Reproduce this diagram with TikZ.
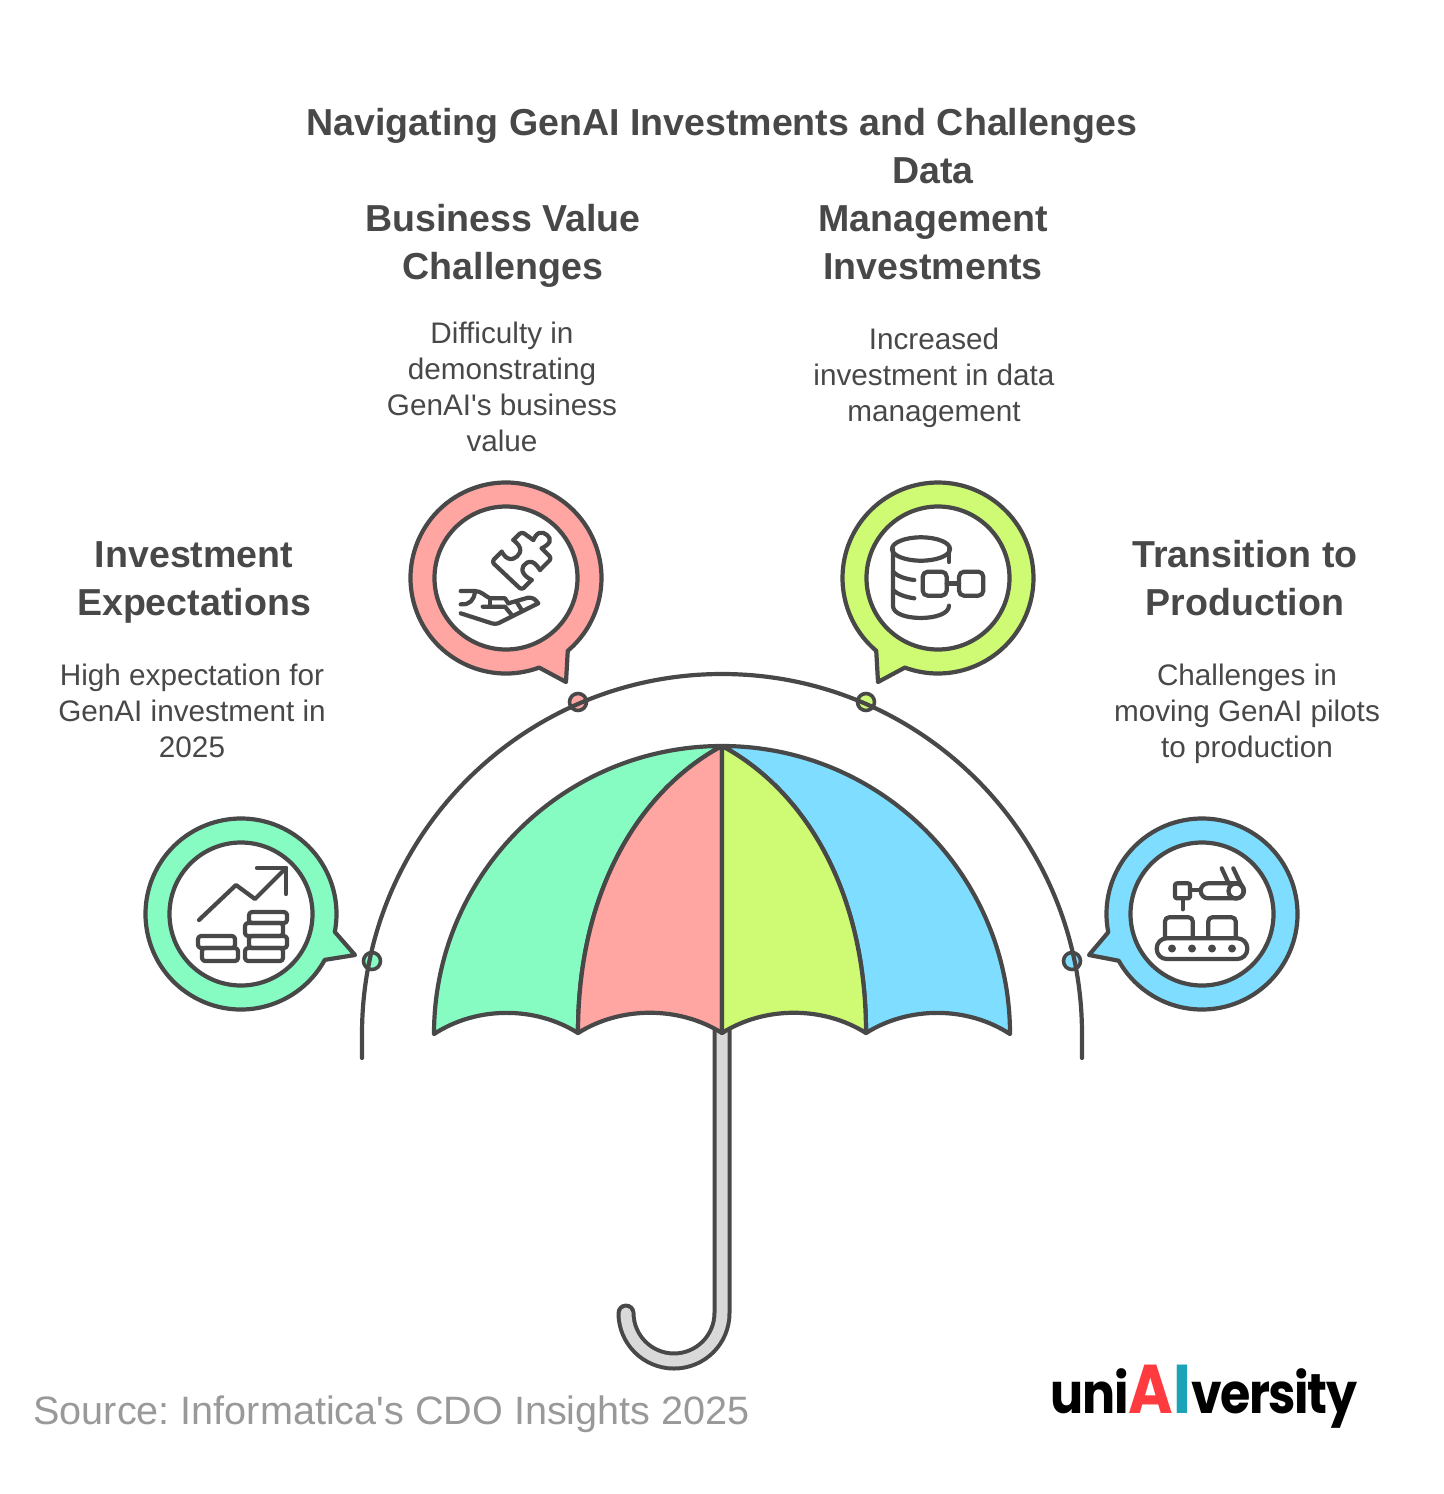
\documentclass[tikz,border=0pt]{standalone}
\usepackage{fontspec}
\setmainfont{Liberation Sans}[Ligatures=TeXOff]
\newfontfamily\logofont{Poppins}[LetterSpace=-3]
\definecolor{ink}{HTML}{484848}
\definecolor{pgreen}{HTML}{86FBC2}
\definecolor{pred}{HTML}{FFA6A3}
\definecolor{plime}{HTML}{CEFB73}
\definecolor{pblue}{HTML}{7FDEFF}
\definecolor{phandle}{HTML}{D9D9D9}
\definecolor{srcgrey}{HTML}{999999}
\definecolor{logored}{HTML}{FF3B3F}
\definecolor{logoteal}{HTML}{1BA3B8}
\tikzset{
  ln/.style={draw=ink,line width=2.1pt,line join=round,line cap=round},
  thinln/.style={draw=ink,line width=1.8pt,line join=round,line cap=round},
  heading/.style={text=ink,align=center,anchor=base,inner sep=0pt,font=\bfseries\fontsize{18.78}{24}\selectfont},
  bodytext/.style={text=ink,align=center,anchor=base,inner sep=0pt,font=\fontsize{14.85}{18}\selectfont},
}
\newcommand{\bubble}[7]{%
  \path[ln,fill=#7] (#1,#2) ++(#3:95.5) arc[start angle=#3,end angle=#4,radius=95.5] -- (#5,#6) -- cycle;
  \path[ln,fill=white] (#1,#2) circle[radius=71.5];
}
\newcommand{\dotmark}[3]{\path[thinln,fill=#3] (#1,#2) circle[radius=8.5];}
\newcommand{\bigletter}[2]{\textcolor{#1}{\fontsize{34.5}{36}\selectfont #2}}
\begin{document}
\frenchspacing
\begin{tikzpicture}[x=0.5pt,y=-0.5pt]
\path[use as bounding box] (0,0) rectangle (1444,1494);

% handle
\draw[draw=ink,line width=9.5pt,line cap=round] (722,1030) -- (722,1313) arc[start angle=0,end angle=180,radius=48];
\draw[draw=phandle,line width=5.5pt,line cap=round] (722,1030) -- (722,1313) arc[start angle=0,end angle=180,radius=48];

% canopy
\path[ln,fill=pgreen] (434,1034) arc[start angle=180,end angle=270,radius=288]
  .. controls (640,790) and (578,890) .. (578,1033)
  .. controls (535,1006) and (477,1006) .. (434,1034) -- cycle;
\path[ln,fill=pblue] (1010,1034) arc[start angle=0,end angle=-90,radius=288]
  .. controls (804,790) and (866,890) .. (866,1033)
  .. controls (909,1006) and (967,1006) .. (1010,1034) -- cycle;
\path[ln,fill=pred] (722,746) .. controls (640,790) and (578,890) .. (578,1033)
  .. controls (621,1006) and (679,1006) .. (722,1033) -- cycle;
\path[ln,fill=plime] (722,746) .. controls (804,790) and (866,890) .. (866,1033)
  .. controls (823,1006) and (765,1006) .. (722,1033) -- cycle;

% dots and outer arc
\dotmark{372}{961}{pgreen}
\dotmark{578}{702}{pred}
\dotmark{866}{702}{plime}
\dotmark{1072}{961}{pblue}
\path[ln] (362,1058) -- (362,1034) arc[start angle=180,end angle=360,radius=360] -- (1082,1058);

% bubbles
\bubble{241}{914}{28.7}{370.8}{355}{955}{pgreen}
\bubble{506}{578}{69.7}{409.7}{566}{682}{pred}
\bubble{938}{578}{130.3}{470.3}{878}{682}{plime}
\bubble{1202}{914}{169}{510.7}{1089}{955}{pblue}

% icon 1: chart and coins
\path[ln] (199,920) -- (236,885) -- (255,899) -- (286,868);
\path[ln] (257,868) -- (286,868) -- (286,894);
\path[ln,rounded corners=1.5pt] (198,936) rectangle (235,948);
\path[ln,rounded corners=1.5pt] (202,948) rectangle (238,961);
\path[ln,rounded corners=1.5pt] (249,912) rectangle (287,923);
\path[ln,rounded corners=1.5pt] (245,923) rectangle (283,936);
\path[ln,rounded corners=1.5pt] (249,936) rectangle (287,948);
\path[ln,rounded corners=1.5pt] (245,948) rectangle (283,961);

% icon 2: puzzle piece and hand
\path[ln,rounded corners=1.5pt] (501.7,551.7) -- (491.7,561.7) -- (521.7,590) -- (531.7,580);
\path[ln] plot[smooth,tension=0.8] coordinates {(531.7,580) (524,574) (523.3,566) (532,562) (540,570)};
\path[ln,rounded corners=1.5pt] (540,570) -- (551.7,558.3) -- (541.7,548.3);
\path[ln] plot[smooth,tension=0.8] coordinates {(541.7,548.3) (549.5,542) (547,535) (539,533) (533.3,540)};
\path[ln,rounded corners=1.5pt] (533.3,540) -- (521.7,531.7) -- (513.3,540);
\path[ln] plot[smooth,tension=0.8] coordinates {(513.3,540) (520,548) (517,556.5) (508.3,558.5) (501.7,551.7)};
\path[ln] (460.7,591) -- (475,591) .. controls (481,591) and (485,596) .. (490,598.3) -- (505,598.3) -- (508.3,603.3);
\path[ln] (460.7,604.3) .. controls (470,605) and (474,600) .. (475,591.5);
\path[ln] (482.7,606.7) -- (505,606.7) -- (511.7,615);
\path[ln] (490,598.3) -- (490,606.7);
\path[ln] (460.7,613.3) -- (491.7,623.3) .. controls (494,624) and (496,624) .. (498.3,623.3) -- (538.3,603.3) .. controls (535,599) and (533,597.5) .. (528,597.7) -- (508.3,603.3);
\path[ln] (516.7,602) -- (521.7,610);

% icon 3: database
\path[ln] (921,549) ellipse[x radius=29,y radius=11.7];
\path[ln] (893,549) -- (893,606) .. controls (893,622) and (949,622) .. (949,605.7);
\path[ln] (949,549) -- (949,562);
\path[ln] (893,571.7) .. controls (897,576) and (905,579) .. (914.3,580);
\path[ln] (893,590) .. controls (897,594) and (905,597) .. (914.3,598.3);
\path[ln,rounded corners=2.5pt] (922.7,571.7) rectangle (946.7,595.7);
\path[ln,rounded corners=2.5pt] (959,571.7) rectangle (983.3,595.7);
\path[ln] (946.7,583.5) -- (959,583.5);

% icon 4: robot and conveyor
\path[ln,rounded corners=5pt] (1156.7,938.3) rectangle (1247.3,959);
\foreach \cx in {1172,1192,1212,1232} \fill[ink] (\cx,948.5) circle[radius=4];
\path[ln,rounded corners=2pt] (1165,938) -- (1165,917.3) -- (1192.7,917.3) -- (1192.7,938);
\path[ln,rounded corners=2pt] (1208.3,938) -- (1208.3,917.3) -- (1235.7,917.3) -- (1235.7,938);
\path[ln,rounded corners=1pt] (1175,883.3) rectangle (1190,898.3);
\path[ln] (1182.7,898.3) -- (1182.7,909.3);
\path[ln] (1190,890) -- (1200.7,890);
\path[ln,rounded corners=3.7pt] (1200.7,883.3) rectangle (1244,898.3);
\path[ln] (1236,891) circle[radius=7.5];
\path[ln] (1221.7,868.3) -- (1229,884);
\path[ln] (1233.3,868.3) -- (1241.7,886);

% texts
\node[heading] (title) at (722,135.5) {Navigating GenAI Investments and Challenges};
\node[heading] (h2) at (503,279) {Business Value\\Challenges};
\node[heading] (h3) at (933,279) {Data\\Management\\Investments};
\node[heading] (h1) at (194,615) {Investment\\Expectations};
\node[heading] (h4) at (1245,615) {Transition to\\Production};
\node[bodytext] (b2) at (502,451) {Difficulty in\\demonstrating\\GenAI's business\\value};
\node[bodytext] (b3) at (934,421) {Increased\\investment in data\\management};
\node[bodytext] (b1) at (192,757) {High expectation for\\GenAI investment in\\2025};
\node[bodytext] (b4) at (1247,757) {Challenges in\\moving GenAI pilots\\to production};
\node[anchor=base west,inner sep=0pt,text=srcgrey,font=\fontsize{19.8}{24}\selectfont] (source) at (33,1424) {Source: Informatica's CDO Insights 2025};
\node[anchor=base,inner sep=0pt,font=\logofont\bfseries\fontsize{28}{36}\selectfont] (logo) at (1204,1413) {\scalebox{0.877}[1]{uni\bigletter{logored}{A}\bigletter{logoteal}{I}versity}};
\end{tikzpicture}
\end{document}
